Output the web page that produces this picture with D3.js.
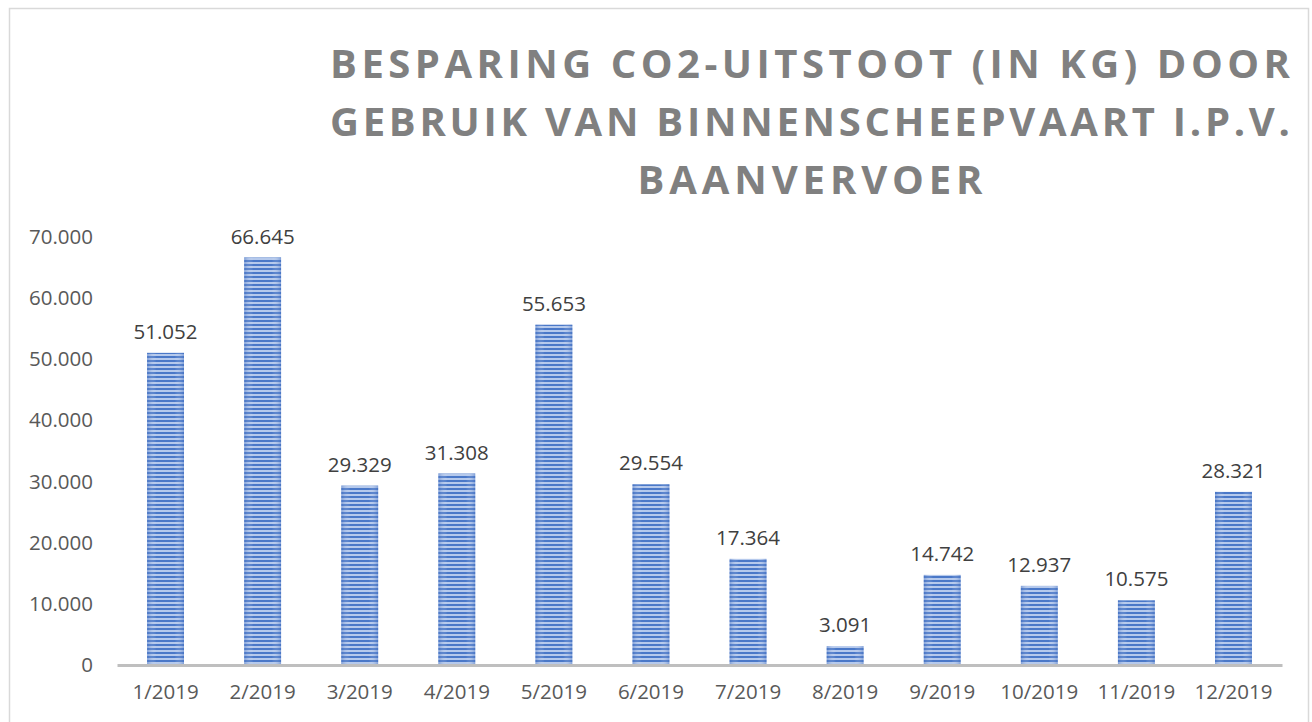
<!DOCTYPE html>
<html>
<head>
<meta charset="utf-8">
<script src="https://cdn.jsdelivr.net/npm/d3@7"></script>
<style>
  body { margin: 0; background: #fff; }
  svg { display: block; }
</style>
</head>
<body>
<div id="chart"></div>
<script>
const months = ["1/2019", "2/2019", "3/2019", "4/2019", "5/2019", "6/2019",
    "7/2019", "8/2019", "9/2019", "10/2019", "11/2019", "12/2019"];
const savings = [51052, 66645, 29329, 31308, 55653, 29554, 17364, 3091, 14742, 12937, 10575, 28321];
const yTicks = [0, 10000, 20000, 30000, 40000, 50000, 60000, 70000];
const titleLines = ["BESPARING CO2-UITSTOOT (IN KG) DOOR",
    "GEBRUIK VAN BINNENSCHEEPVAART I.P.V.",
    "BAANVERVOER"];

const width = 1312;
const height = 722;
const marginLeft = 117;
const marginRight = 30;
const marginTop = 237;
const marginBottom = 57;
const labelSize = 20.5;

const nl = d3.formatLocale({ decimal: ",", thousands: ".", grouping: [3], currency: ["€", ""] });
const fmt = nl.format(",d");

const svg = d3.select("#chart")
    .append("svg")
    .attr("width", width)
    .attr("height", height);

// bar fill: horizontal stripes + soft edges
const defs = svg.append("defs");
const pat = defs.append("pattern")
    .attr("id", "stripes")
    .attr("patternUnits", "userSpaceOnUse")
    .attr("width", 8)
    .attr("height", 4);
pat.append("rect").attr("width", 8).attr("height", 4).attr("fill", "#4a78c8");
pat.append("rect").attr("y", 2).attr("width", 8).attr("height", 2).attr("fill", "#b5c9ec");

const grad = defs.append("linearGradient").attr("id", "edge")
    .attr("x1", 0).attr("x2", 1).attr("y1", 0).attr("y2", 0);
grad.append("stop").attr("offset", "0%").attr("stop-color", "#3f6cbf").attr("stop-opacity", 0.45);
grad.append("stop").attr("offset", "25%").attr("stop-color", "#ffffff").attr("stop-opacity", 0);
grad.append("stop").attr("offset", "75%").attr("stop-color", "#ffffff").attr("stop-opacity", 0);
grad.append("stop").attr("offset", "100%").attr("stop-color", "#3f6cbf").attr("stop-opacity", 0.45);

// chart border
svg.append("rect")
    .attr("x", 9.5).attr("y", 8.5)
    .attr("width", 1299).attr("height", 730)
    .attr("fill", "none")
    .attr("stroke", "#d9d9d9")
    .attr("stroke-width", 1.5);

// title
const titleX = 810;
const titleWidths = [960, 960, 345];
svg.append("g")
    .selectAll("text")
    .data(titleLines)
    .join("text")
    .attr("x", titleX)
    .attr("y", (d, i) => 78 + i * 58)
    .attr("text-anchor", "middle")
    .attr("textLength", (d, i) => titleWidths[i])
    .attr("lengthAdjust", "spacing")
    .attr("font-family", "'Open Sans', sans-serif")
    .attr("font-weight", "bold")
    .attr("font-size", 40)
    .attr("fill", "#808080")
    .text((d) => d);

const x = d3.scaleBand()
    .domain(months)
    .range([marginLeft, width - marginRight])
    .paddingInner(0.62)
    .paddingOuter(0.31);

const y = d3.scaleLinear()
    .domain([0, 70000])
    .range([height - marginBottom, marginTop]);

// y axis labels
svg.append("g")
    .attr("transform", `translate(93,0)`)
    .call(d3.axisLeft(y).tickValues(yTicks).tickFormat(fmt).tickSize(0).tickPadding(0))
    .call((g) => g.select(".domain").remove())
    .call((g) => g.selectAll("text")
        .attr("font-family", "'Open Sans', sans-serif")
        .attr("font-size", labelSize)
        .attr("fill", "#595959"));

// bars
const bars = svg.append("g")
    .selectAll("g")
    .data(months.map((m, i) => ({ month: m, value: savings[i] })))
    .join("g");

bars.append("rect")
    .attr("x", (d) => x(d.month))
    .attr("y", (d) => y(d.value))
    .attr("width", x.bandwidth())
    .attr("height", (d) => y(0) - y(d.value))
    .attr("fill", "url(#stripes)");

bars.append("rect")
    .attr("x", (d) => x(d.month))
    .attr("y", (d) => y(d.value))
    .attr("width", x.bandwidth())
    .attr("height", (d) => y(0) - y(d.value))
    .attr("fill", "url(#edge)");

// value labels
bars.append("text")
    .attr("x", (d) => x(d.month) + x.bandwidth() / 2)
    .attr("y", (d) => y(d.value) - 14)
    .attr("text-anchor", "middle")
    .attr("font-family", "'Open Sans', sans-serif")
    .attr("font-size", labelSize)
    .attr("fill", "#404040")
    .text((d) => fmt(d.value));

// x axis
svg.append("g")
    .attr("transform", `translate(0,${y(0)})`)
    .call(d3.axisBottom(x).tickSize(0).tickPadding(19))
    .call((g) => g.select(".domain")
        .attr("stroke", "#bfbfbf")
        .attr("stroke-width", 3))
    .call((g) => g.selectAll("text")
        .attr("font-family", "'Open Sans', sans-serif")
        .attr("font-size", labelSize)
        .attr("fill", "#595959"));
</script>
</body>
</html>
